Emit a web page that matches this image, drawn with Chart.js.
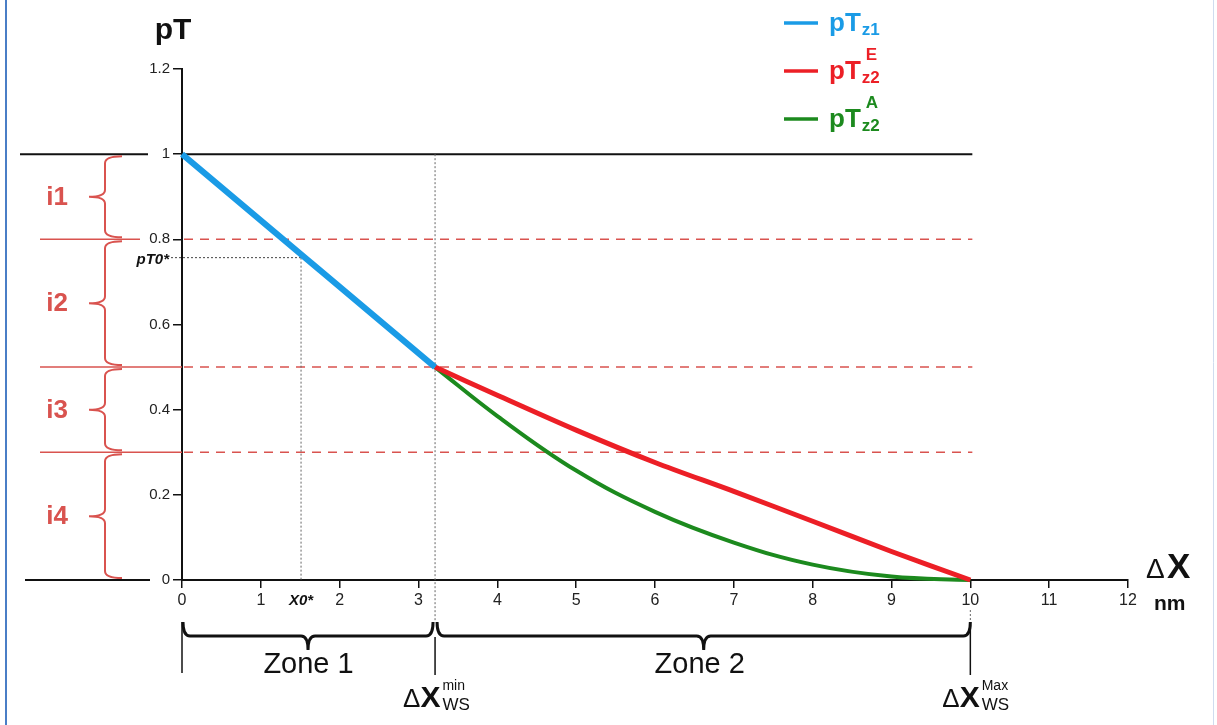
<!DOCTYPE html>
<html>
<head>
<meta charset="utf-8">
<script src="https://cdn.jsdelivr.net/npm/chart.js@4.4.1/dist/chart.umd.min.js"></script>
<style>
  html, body { margin: 0; padding: 0; background: #fff; }
  #wrap { width: 1217px; height: 725px; position: relative; }
</style>
</head>
<body>
<div id="wrap"><canvas id="ptChart" width="1217" height="725"></canvas></div>
<script>
// ---- data ----
const xTickValues = [0, 1, 2, 3, 4, 5, 6, 7, 8, 9, 10, 11, 12];
const yTickValues = [0, 0.2, 0.4, 0.6, 0.8, 1, 1.2];

// zone 1 (linear)
const xZ1 = [0, 3.21];
const pTz1 = [1, 0.5];

// zone 2
const xZ2 = [3.21, 4, 5, 6, 7, 8, 9, 10];
const pTz2E = [0.5, 0.434, 0.352, 0.276, 0.208, 0.138, 0.067, 0];
const pTz2A = [0.5, 0.385, 0.257, 0.16, 0.088, 0.036, 0.008, 0];

// interval limits i1..i4 and markers
const levels = [1, 0.8, 0.5, 0.3, 0];
const intervalNames = ['i1', 'i2', 'i3', 'i4'];
const dashedLevels = [0.8, 0.5, 0.3];
const dxMin = 3.21;
const dxMax = 10;
const x0Star = 1.51;
const pT0Star = 0.757;

// legend
const legendSub = ['z1', 'z2', 'z2'];
const legendSup = ['', 'E', 'A'];

const FONT = '"Liberation Sans", Arial, Helvetica, sans-serif';
const BLUE = '#1a9be6';
const RED = '#ec1f26';
const GREEN = '#1c8a1e';
const IRED = '#d9534f';

function pts(xs, ys) {
  return xs.map((x, i) => ({ x: x, y: ys[i] }));
}

function seg(ctx, x1, y1, x2, y2, color, w, dash) {
  ctx.save();
  ctx.beginPath();
  ctx.strokeStyle = color;
  ctx.lineWidth = w;
  ctx.setLineDash(dash || []);
  ctx.moveTo(x1, y1);
  ctx.lineTo(x2, y2);
  ctx.stroke();
  ctx.restore();
}

// curly brace, vertical, tip on the left
function vBrace(ctx, x, y1, y2, d, tip) {
  const m = (y1 + y2) / 2, r = 7;
  ctx.beginPath();
  ctx.moveTo(x + d, y1);
  ctx.quadraticCurveTo(x, y1, x, y1 + r);
  ctx.lineTo(x, m - r);
  ctx.quadraticCurveTo(x, m, x - tip, m);
  ctx.quadraticCurveTo(x, m, x, m + r);
  ctx.lineTo(x, y2 - r);
  ctx.quadraticCurveTo(x, y2, x + d, y2);
  ctx.stroke();
}

// curly brace, horizontal, tip pointing down
function hBrace(ctx, x1, x2, y, d, tip) {
  const m = (x1 + x2) / 2, r = 7;
  ctx.beginPath();
  ctx.moveTo(x1, y - d);
  ctx.quadraticCurveTo(x1, y, x1 + r, y);
  ctx.lineTo(m - r, y);
  ctx.quadraticCurveTo(m, y, m, y + tip);
  ctx.quadraticCurveTo(m, y, m + r, y);
  ctx.lineTo(x2 - r, y);
  ctx.quadraticCurveTo(x2, y, x2, y - d);
  ctx.stroke();
}

function dxLabel(ctx, x, base, sup, sub) {
  ctx.save();
  ctx.fillStyle = '#111';
  ctx.textAlign = 'left';
  ctx.textBaseline = 'alphabetic';
  ctx.font = '26px ' + FONT;
  ctx.fillText('\u0394', x, base);
  let w = ctx.measureText('\u0394').width;
  ctx.font = 'bold 30px ' + FONT;
  ctx.fillText('X', x + w, base);
  w += ctx.measureText('X').width + 2;
  ctx.font = '14px ' + FONT;
  ctx.fillText(sup, x + w, base - 17);
  ctx.font = '17px ' + FONT;
  ctx.fillText(sub, x + w, base + 3);
  ctx.restore();
}

const guides = {
  id: 'guides',
  beforeDatasetsDraw(chart) {
    const ctx = chart.ctx;
    const xs = chart.scales.x, ys = chart.scales.y;
    const x0 = xs.getPixelForValue(0);
    const xEnd = xs.getPixelForValue(dxMax);
    const xm = xs.getPixelForValue(dxMin);
    const y1 = ys.getPixelForValue(1);
    const yb = ys.getPixelForValue(0);

    // pT = 1 reference line
    seg(ctx, x0, y1, xEnd + 2, y1, '#111', 2);
    seg(ctx, 20, y1, 148, y1, '#111', 2);
    // extension of the x axis to the left
    seg(ctx, 25, yb, 150, yb, '#111', 2);

    // dashed interval limits
    dashedLevels.forEach(v => {
      const y = ys.getPixelForValue(v);
      seg(ctx, x0 + 2, y, xEnd + 2, y, IRED, 1.5, [9, 7]);
      seg(ctx, 40, y, v === 0.8 ? 140 : x0, y, IRED, 1.5);
    });

    // dotted guides
    seg(ctx, xm, y1, xm, 622, '#666', 1, [2, 2]);
    seg(ctx, xEnd, yb + 30, xEnd, 622, '#666', 1, [2, 2]);
    const xp = xs.getPixelForValue(x0Star);
    const yp = ys.getPixelForValue(pT0Star);
    seg(ctx, 171, yp, xp, yp, '#444', 1, [2, 2]);
    seg(ctx, xp, yp, xp, yb, '#666', 1, [2, 2]);
  },
  afterDraw(chart) {
    const ctx = chart.ctx;
    const xs = chart.scales.x, ys = chart.scales.y;
    const x0 = xs.getPixelForValue(0);
    const xm = xs.getPixelForValue(dxMin);
    const xEnd = xs.getPixelForValue(dxMax);

    ctx.save();
    // frame edges
    seg(ctx, 6, 0, 6, 725, '#4a7ec6', 2);
    seg(ctx, 1213.5, 0, 1213.5, 725, '#cfdcef', 1);

    // axis title
    ctx.fillStyle = '#111';
    ctx.textAlign = 'center';
    ctx.textBaseline = 'alphabetic';
    ctx.font = 'bold 30px ' + FONT;
    ctx.fillText('pT', 173, 39);

    // interval braces and names
    ctx.strokeStyle = IRED;
    ctx.lineWidth = 2;
    for (let i = 0; i < intervalNames.length; i++) {
      const ya = ys.getPixelForValue(levels[i]) + 2;
      const yb = ys.getPixelForValue(levels[i + 1]) - 2;
      vBrace(ctx, 105, ya, yb, 17, 16);
      ctx.fillStyle = IRED;
      ctx.font = 'bold 26px ' + FONT;
      ctx.textAlign = 'center';
      ctx.textBaseline = 'middle';
      ctx.fillText(intervalNames[i], 57, (ya + yb) / 2 + 1);
    }

    // starred markers
    ctx.fillStyle = '#111';
    ctx.font = 'italic bold 15px ' + FONT;
    ctx.textAlign = 'right';
    ctx.textBaseline = 'alphabetic';
    ctx.fillText('pT0*', 169, ys.getPixelForValue(pT0Star) + 6);
    ctx.textAlign = 'center';
    ctx.fillText('X0*', xs.getPixelForValue(x0Star), 605);

    // zones under the x axis
    ctx.strokeStyle = '#111';
    ctx.lineWidth = 3;
    hBrace(ctx, x0 + 1, xm - 2, 636, 14, 14);
    hBrace(ctx, xm + 2, xEnd, 636, 14, 14);
    seg(ctx, x0, 622, x0, 673, '#111', 1.5);
    seg(ctx, xm, 637, xm, 675, '#111', 1.5);
    seg(ctx, xEnd, 625, xEnd, 675, '#111', 1.5);
    ctx.fillStyle = '#111';
    ctx.font = '29px ' + FONT;
    ctx.textAlign = 'center';
    ctx.fillText('Zone 1', (x0 + xm) / 2, 673);
    ctx.fillText('Zone 2', (xm + xEnd) / 2 - 3, 673);

    dxLabel(ctx, xm - 32, 707, 'min', 'WS');
    dxLabel(ctx, xEnd - 28, 707, 'Max', 'WS');

    // x axis name
    ctx.textAlign = 'left';
    ctx.font = '28px ' + FONT;
    ctx.fillText('\u0394', 1146, 578);
    ctx.font = 'bold 35px ' + FONT;
    ctx.fillText('X', 1167, 578);
    ctx.font = 'bold 21px ' + FONT;
    ctx.fillText('nm', 1154, 610);

    // legend
    const colors = [BLUE, RED, GREEN];
    const rows = [23, 71, 119];
    rows.forEach((y, i) => {
      seg(ctx, 784, y, 818, y, colors[i], 3.5);
      ctx.fillStyle = colors[i];
      ctx.textAlign = 'left';
      ctx.font = 'bold 26px ' + FONT;
      ctx.fillText('pT', 829, y + 8);
      const w = ctx.measureText('pT').width;
      ctx.font = 'bold 17px ' + FONT;
      ctx.fillText(legendSub[i], 829 + w + 1, y + 12);
      if (legendSup[i]) ctx.fillText(legendSup[i], 829 + w + 5, y - 11);
    });
    ctx.restore();
  }
};

new Chart(document.getElementById('ptChart'), {
  type: 'line',
  data: {
    datasets: [
      {
        label: 'pTz1',
        data: pts(xZ1, pTz1),
        borderColor: BLUE,
        borderWidth: 6,
        pointRadius: 0,
        clip: false
      },
      {
        label: 'pTz2E',
        data: pts(xZ2, pTz2E),
        borderColor: RED,
        borderWidth: 5,
        pointRadius: 0,
        tension: 0.3,
        clip: false
      },
      {
        label: 'pTz2A',
        data: pts(xZ2, pTz2A),
        borderColor: GREEN,
        borderWidth: 4,
        pointRadius: 0,
        tension: 0.4,
        clip: false
      }
    ]
  },
  options: {
    responsive: false,
    animation: false,
    layout: { padding: { left: 142, right: 89, top: 69, bottom: 120 } },
    plugins: {
      legend: { display: false },
      tooltip: { enabled: false }
    },
    scales: {
      x: {
        type: 'linear',
        min: 0,
        max: 12,
        afterBuildTicks: s => { s.ticks = xTickValues.map(v => ({ value: v })); },
        afterFit: s => { s.height = 25; },
        grid: { drawOnChartArea: false, drawTicks: true, tickLength: 8, color: '#111', lineWidth: 1.5 },
        border: { display: true, color: '#111', width: 2 },
        ticks: {
          autoSkip: false,
          maxRotation: 0,
          padding: 3,
          color: '#222',
          font: { family: FONT, size: 16 },
          callback: v => String(v)
        }
      },
      y: {
        type: 'linear',
        min: 0,
        max: 1.2,
        afterBuildTicks: s => { s.ticks = yTickValues.map(v => ({ value: v })); },
        afterFit: s => { s.width = 40; },
        grid: { drawOnChartArea: false, drawTicks: true, tickLength: 9, color: '#111', lineWidth: 1.5 },
        border: { display: true, color: '#111', width: 2 },
        ticks: {
          padding: 3,
          color: '#222',
          font: { family: FONT, size: 15 },
          callback: v => String(v)
        }
      }
    }
  },
  plugins: [guides]
});
</script>
</body>
</html>
